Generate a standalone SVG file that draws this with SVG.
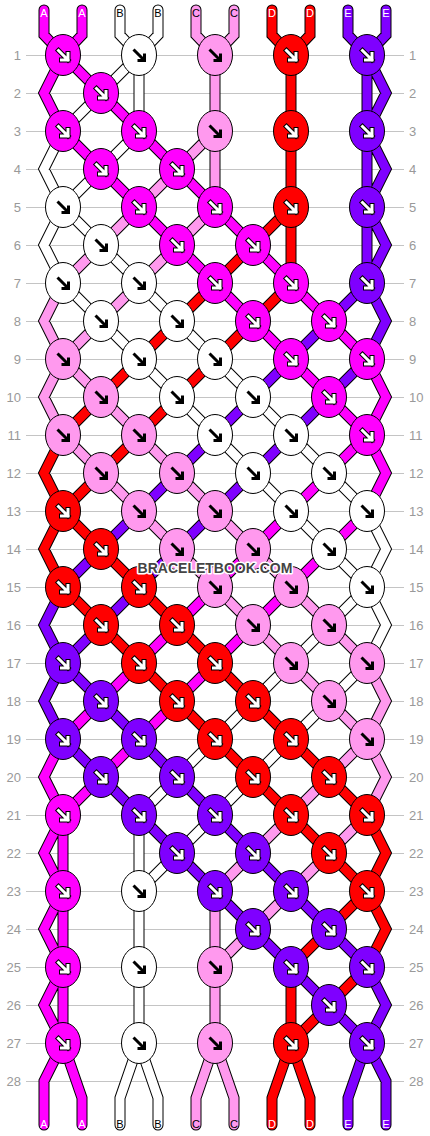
<svg xmlns="http://www.w3.org/2000/svg" xmlns:xlink="http://www.w3.org/1999/xlink" width="430" height="1136" viewBox="0 0 430 1136">
<style>
.grid{fill:none;stroke:#c4c4c4;stroke-width:1}
.num{font-family:"Liberation Sans",Arial,sans-serif;font-size:13px;fill:#999}
.nl{text-anchor:end}
.lab{font-family:"Liberation Sans",Arial,sans-serif;font-size:11px;text-anchor:middle}
.lw{fill:#fff}.lk{fill:#000}
.o{fill:none;stroke:#000;stroke-width:11;stroke-linejoin:miter;stroke-linecap:round}
.s{fill:none;stroke-width:9;stroke-linejoin:miter;stroke-linecap:round}
.ca{stroke:#ff00ff}.cb{stroke:#ffffff}.cc{stroke:#ff99ee}.cd{stroke:#ff0000}.ce{stroke:#7f00ff}
.k{stroke:#000;stroke-width:1}
.fa{fill:#ff00ff}.fb{fill:#ffffff}.fc{fill:#ff99ee}.fd{fill:#ff0000}.fe{fill:#7f00ff}
.wm{font-family:"Liberation Sans",Arial,sans-serif;font-size:14px;font-weight:bold;fill:#444;stroke:#fff;stroke-width:3;paint-order:stroke;stroke-linejoin:round;text-anchor:middle}
</style>
<defs>
<g id="aw"><path d="M-4.5,-4.5L5,5M5,-1.5L5,5L-1.5,5" fill="none" stroke="#000" stroke-width="5" stroke-linecap="square"/><path d="M-4.5,-4.5L5,5M5,-1.5L5,5L-1.5,5" fill="none" stroke="#fff" stroke-width="3" stroke-linecap="square"/></g>
<path id="ab" d="M-5.5,-5.5L5.5,5.5M5.5,-1.5L5.5,5.5L-1.5,5.5" fill="none" stroke="#000" stroke-width="3"/>
<path id="sA" d="M44,10L44,35L63,55M82,10L82,35L63,55M63,55L44,93L63,131M63,55L101,93M101,93L139,131M63,131L101,169M139,131L177,169M101,169L139,207M177,169L215,207M139,207L177,245M215,207L253,245M177,245L215,283M253,245L291,283M215,283L253,321M291,283L329,321M253,321L291,359M329,321L367,359M291,359L329,397M367,359L386,397L367,435M329,397L367,435M367,435L329,473M367,435L386,473L367,511M329,473L291,511M291,511L253,549M367,511L329,549M253,549L215,587M329,549L291,587M215,587L177,625M291,587L253,625M177,625L139,663M253,625L215,663M139,663L101,701M215,663L177,701M101,701L63,739M177,701L139,739M63,739L44,777L63,815M139,739L101,777M101,777L63,815M63,815L44,853L63,891M63,815L63,891M63,891L44,929L63,967M63,891L63,967M63,967L44,1005L63,1043M63,967L63,1043M63,1043L44,1081L44,1125M63,1043L82,1098L82,1125"/>
<path id="sB" d="M120,10L120,35L139,55M158,10L158,35L139,55M139,55L101,93M139,55L139,131M101,93L63,131M63,131L44,169L63,207M139,131L101,169M101,169L63,207M63,207L44,245L63,283M63,207L101,245M101,245L139,283M63,283L101,321M139,283L177,321M101,321L139,359M177,321L215,359M139,359L177,397M215,359L253,397M177,397L215,435M253,397L291,435M215,435L253,473M291,435L329,473M253,473L291,511M329,473L367,511M291,511L329,549M367,511L386,549L367,587M329,549L367,587M367,587L329,625M367,587L386,625L367,663M329,625L291,663M291,663L253,701M367,663L329,701M253,701L215,739M329,701L291,739M215,739L177,777M291,739L253,777M177,777L139,815M253,777L215,815M139,815L139,891M215,815L177,853M177,853L139,891M139,891L139,967M139,967L139,1043M139,1043L120,1098L120,1125M139,1043L158,1098L158,1125"/>
<path id="sC" d="M196,10L196,35L215,55M234,10L234,35L215,55M215,55L215,131M215,131L177,169M215,131L215,207M177,169L139,207M139,207L101,245M215,207L177,245M101,245L63,283M177,245L139,283M63,283L44,321L63,359M139,283L101,321M101,321L63,359M63,359L44,397L63,435M63,359L101,397M101,397L139,435M63,435L101,473M139,435L177,473M101,473L139,511M177,473L215,511M139,511L177,549M215,511L253,549M177,549L215,587M253,549L291,587M215,587L253,625M291,587L329,625M253,625L291,663M329,625L367,663M291,663L329,701M367,663L386,701L367,739M329,701L367,739M367,739L329,777M367,739L386,777L367,815M329,777L291,815M291,815L253,853M367,815L329,853M253,853L215,891M329,853L291,891M215,891L215,967M291,891L253,929M253,929L215,967M215,967L215,1043M215,1043L196,1098L196,1125M215,1043L234,1098L234,1125"/>
<path id="sD" d="M272,10L272,35L291,55M310,10L310,35L291,55M291,55L291,131M291,131L291,207M291,207L253,245M291,207L291,283M253,245L215,283M215,283L177,321M291,283L253,321M177,321L139,359M253,321L215,359M139,359L101,397M215,359L177,397M101,397L63,435M177,397L139,435M63,435L44,473L63,511M139,435L101,473M101,473L63,511M63,511L44,549L63,587M63,511L101,549M101,549L139,587M63,587L101,625M139,587L177,625M101,625L139,663M177,625L215,663M139,663L177,701M215,663L253,701M177,701L215,739M253,701L291,739M215,739L253,777M291,739L329,777M253,777L291,815M329,777L367,815M291,815L329,853M367,815L386,853L367,891M329,853L367,891M367,891L329,929M367,891L386,929L367,967M329,929L291,967M291,967L291,1043M367,967L329,1005M329,1005L291,1043M291,1043L272,1098L272,1125M291,1043L310,1098L310,1125"/>
<path id="sE" d="M348,10L348,35L367,55M386,10L386,35L367,55M367,55L367,131M367,55L386,93L367,131M367,131L367,207M367,131L386,169L367,207M367,207L367,283M367,207L386,245L367,283M367,283L329,321M367,283L386,321L367,359M329,321L291,359M291,359L253,397M367,359L329,397M253,397L215,435M329,397L291,435M215,435L177,473M291,435L253,473M177,473L139,511M253,473L215,511M139,511L101,549M215,511L177,549M101,549L63,587M177,549L139,587M63,587L44,625L63,663M139,587L101,625M101,625L63,663M63,663L44,701L63,739M63,663L101,701M101,701L139,739M63,739L101,777M139,739L177,777M101,777L139,815M177,777L215,815M139,815L177,853M215,815L253,853M177,853L215,891M253,853L291,891M215,891L253,929M291,891L329,929M253,929L291,967M329,929L367,967M291,967L329,1005M367,967L386,1005L367,1043M329,1005L367,1043M367,1043L348,1098L348,1125M367,1043L386,1081L386,1125"/>
</defs>
<rect width="430" height="1136" fill="#fff"/>
<g id="grid">
<path class="grid" d="M26,55.5H404M26,93.5H404M26,131.5H404M26,169.5H404M26,207.5H404M26,245.5H404M26,283.5H404M26,321.5H404M26,359.5H404M26,397.5H404M26,435.5H404M26,473.5H404M26,511.5H404M26,549.5H404M26,587.5H404M26,625.5H404M26,663.5H404M26,701.5H404M26,739.5H404M26,777.5H404M26,815.5H404M26,853.5H404M26,891.5H404M26,929.5H404M26,967.5H404M26,1005.5H404M26,1043.5H404M26,1081.5H404"/>
</g>
<g id="row-numbers">
<text class="num nl" x="21" y="60">1</text><text class="num" x="409" y="60">1</text>
<text class="num nl" x="21" y="98">2</text><text class="num" x="409" y="98">2</text>
<text class="num nl" x="21" y="136">3</text><text class="num" x="409" y="136">3</text>
<text class="num nl" x="21" y="174">4</text><text class="num" x="409" y="174">4</text>
<text class="num nl" x="21" y="212">5</text><text class="num" x="409" y="212">5</text>
<text class="num nl" x="21" y="250">6</text><text class="num" x="409" y="250">6</text>
<text class="num nl" x="21" y="288">7</text><text class="num" x="409" y="288">7</text>
<text class="num nl" x="21" y="326">8</text><text class="num" x="409" y="326">8</text>
<text class="num nl" x="21" y="364">9</text><text class="num" x="409" y="364">9</text>
<text class="num nl" x="21" y="402">10</text><text class="num" x="409" y="402">10</text>
<text class="num nl" x="21" y="440">11</text><text class="num" x="409" y="440">11</text>
<text class="num nl" x="21" y="478">12</text><text class="num" x="409" y="478">12</text>
<text class="num nl" x="21" y="516">13</text><text class="num" x="409" y="516">13</text>
<text class="num nl" x="21" y="554">14</text><text class="num" x="409" y="554">14</text>
<text class="num nl" x="21" y="592">15</text><text class="num" x="409" y="592">15</text>
<text class="num nl" x="21" y="630">16</text><text class="num" x="409" y="630">16</text>
<text class="num nl" x="21" y="668">17</text><text class="num" x="409" y="668">17</text>
<text class="num nl" x="21" y="706">18</text><text class="num" x="409" y="706">18</text>
<text class="num nl" x="21" y="744">19</text><text class="num" x="409" y="744">19</text>
<text class="num nl" x="21" y="782">20</text><text class="num" x="409" y="782">20</text>
<text class="num nl" x="21" y="820">21</text><text class="num" x="409" y="820">21</text>
<text class="num nl" x="21" y="858">22</text><text class="num" x="409" y="858">22</text>
<text class="num nl" x="21" y="896">23</text><text class="num" x="409" y="896">23</text>
<text class="num nl" x="21" y="934">24</text><text class="num" x="409" y="934">24</text>
<text class="num nl" x="21" y="972">25</text><text class="num" x="409" y="972">25</text>
<text class="num nl" x="21" y="1010">26</text><text class="num" x="409" y="1010">26</text>
<text class="num nl" x="21" y="1048">27</text><text class="num" x="409" y="1048">27</text>
<text class="num nl" x="21" y="1086">28</text><text class="num" x="409" y="1086">28</text>
</g>
<g id="strings">
<use href="#sB" class="o"/><use href="#sB" class="s cb"/>
<use href="#sC" class="o"/><use href="#sC" class="s cc"/>
<use href="#sA" class="o"/><use href="#sA" class="s ca"/>
<use href="#sD" class="o"/><use href="#sD" class="s cd"/>
<use href="#sE" class="o"/><use href="#sE" class="s ce"/>
</g>
<g id="string-labels">
<text class="lab lw" x="44" y="17">A</text><text class="lab lw" x="82" y="17">A</text><text class="lab lk" x="120" y="17">B</text><text class="lab lk" x="158" y="17">B</text><text class="lab lk" x="196" y="17">C</text><text class="lab lk" x="234" y="17">C</text><text class="lab lw" x="272" y="17">D</text><text class="lab lw" x="310" y="17">D</text><text class="lab lw" x="348" y="17">E</text><text class="lab lw" x="386" y="17">E</text>
<text class="lab lw" x="44" y="1128">A</text><text class="lab lw" x="82" y="1128">A</text><text class="lab lk" x="120" y="1128">B</text><text class="lab lk" x="158" y="1128">B</text><text class="lab lk" x="196" y="1128">C</text><text class="lab lk" x="234" y="1128">C</text><text class="lab lw" x="272" y="1128">D</text><text class="lab lw" x="310" y="1128">D</text><text class="lab lw" x="348" y="1128">E</text><text class="lab lw" x="386" y="1128">E</text>
</g>
<g id="knots">
<g id="k1-1"><ellipse class="k fa" cx="63" cy="55" rx="17.5" ry="20.5"/><use href="#aw" x="63" y="55"/></g>
<g id="k1-2"><ellipse class="k fb" cx="139" cy="55" rx="17.5" ry="20.5"/><use href="#ab" x="139" y="55"/></g>
<g id="k1-3"><ellipse class="k fc" cx="215" cy="55" rx="17.5" ry="20.5"/><use href="#ab" x="215" y="55"/></g>
<g id="k1-4"><ellipse class="k fd" cx="291" cy="55" rx="17.5" ry="20.5"/><use href="#aw" x="291" y="55"/></g>
<g id="k1-5"><ellipse class="k fe" cx="367" cy="55" rx="17.5" ry="20.5"/><use href="#aw" x="367" y="55"/></g>
<g id="k2-1"><ellipse class="k fa" cx="101" cy="93" rx="17.5" ry="20.5"/><use href="#aw" x="101" y="93"/></g>
<g id="k3-1"><ellipse class="k fa" cx="63" cy="131" rx="17.5" ry="20.5"/><use href="#aw" x="63" y="131"/></g>
<g id="k3-2"><ellipse class="k fa" cx="139" cy="131" rx="17.5" ry="20.5"/><use href="#aw" x="139" y="131"/></g>
<g id="k3-3"><ellipse class="k fc" cx="215" cy="131" rx="17.5" ry="20.5"/><use href="#ab" x="215" y="131"/></g>
<g id="k3-4"><ellipse class="k fd" cx="291" cy="131" rx="17.5" ry="20.5"/><use href="#aw" x="291" y="131"/></g>
<g id="k3-5"><ellipse class="k fe" cx="367" cy="131" rx="17.5" ry="20.5"/><use href="#aw" x="367" y="131"/></g>
<g id="k4-1"><ellipse class="k fa" cx="101" cy="169" rx="17.5" ry="20.5"/><use href="#aw" x="101" y="169"/></g>
<g id="k4-2"><ellipse class="k fa" cx="177" cy="169" rx="17.5" ry="20.5"/><use href="#aw" x="177" y="169"/></g>
<g id="k5-1"><ellipse class="k fb" cx="63" cy="207" rx="17.5" ry="20.5"/><use href="#ab" x="63" y="207"/></g>
<g id="k5-2"><ellipse class="k fa" cx="139" cy="207" rx="17.5" ry="20.5"/><use href="#aw" x="139" y="207"/></g>
<g id="k5-3"><ellipse class="k fa" cx="215" cy="207" rx="17.5" ry="20.5"/><use href="#aw" x="215" y="207"/></g>
<g id="k5-4"><ellipse class="k fd" cx="291" cy="207" rx="17.5" ry="20.5"/><use href="#aw" x="291" y="207"/></g>
<g id="k5-5"><ellipse class="k fe" cx="367" cy="207" rx="17.5" ry="20.5"/><use href="#aw" x="367" y="207"/></g>
<g id="k6-1"><ellipse class="k fb" cx="101" cy="245" rx="17.5" ry="20.5"/><use href="#ab" x="101" y="245"/></g>
<g id="k6-2"><ellipse class="k fa" cx="177" cy="245" rx="17.5" ry="20.5"/><use href="#aw" x="177" y="245"/></g>
<g id="k6-3"><ellipse class="k fa" cx="253" cy="245" rx="17.5" ry="20.5"/><use href="#aw" x="253" y="245"/></g>
<g id="k7-1"><ellipse class="k fb" cx="63" cy="283" rx="17.5" ry="20.5"/><use href="#ab" x="63" y="283"/></g>
<g id="k7-2"><ellipse class="k fb" cx="139" cy="283" rx="17.5" ry="20.5"/><use href="#ab" x="139" y="283"/></g>
<g id="k7-3"><ellipse class="k fa" cx="215" cy="283" rx="17.5" ry="20.5"/><use href="#aw" x="215" y="283"/></g>
<g id="k7-4"><ellipse class="k fa" cx="291" cy="283" rx="17.5" ry="20.5"/><use href="#aw" x="291" y="283"/></g>
<g id="k7-5"><ellipse class="k fe" cx="367" cy="283" rx="17.5" ry="20.5"/><use href="#aw" x="367" y="283"/></g>
<g id="k8-1"><ellipse class="k fb" cx="101" cy="321" rx="17.5" ry="20.5"/><use href="#ab" x="101" y="321"/></g>
<g id="k8-2"><ellipse class="k fb" cx="177" cy="321" rx="17.5" ry="20.5"/><use href="#ab" x="177" y="321"/></g>
<g id="k8-3"><ellipse class="k fa" cx="253" cy="321" rx="17.5" ry="20.5"/><use href="#aw" x="253" y="321"/></g>
<g id="k8-4"><ellipse class="k fa" cx="329" cy="321" rx="17.5" ry="20.5"/><use href="#aw" x="329" y="321"/></g>
<g id="k9-1"><ellipse class="k fc" cx="63" cy="359" rx="17.5" ry="20.5"/><use href="#ab" x="63" y="359"/></g>
<g id="k9-2"><ellipse class="k fb" cx="139" cy="359" rx="17.5" ry="20.5"/><use href="#ab" x="139" y="359"/></g>
<g id="k9-3"><ellipse class="k fb" cx="215" cy="359" rx="17.5" ry="20.5"/><use href="#ab" x="215" y="359"/></g>
<g id="k9-4"><ellipse class="k fa" cx="291" cy="359" rx="17.5" ry="20.5"/><use href="#aw" x="291" y="359"/></g>
<g id="k9-5"><ellipse class="k fa" cx="367" cy="359" rx="17.5" ry="20.5"/><use href="#aw" x="367" y="359"/></g>
<g id="k10-1"><ellipse class="k fc" cx="101" cy="397" rx="17.5" ry="20.5"/><use href="#ab" x="101" y="397"/></g>
<g id="k10-2"><ellipse class="k fb" cx="177" cy="397" rx="17.5" ry="20.5"/><use href="#ab" x="177" y="397"/></g>
<g id="k10-3"><ellipse class="k fb" cx="253" cy="397" rx="17.5" ry="20.5"/><use href="#ab" x="253" y="397"/></g>
<g id="k10-4"><ellipse class="k fa" cx="329" cy="397" rx="17.5" ry="20.5"/><use href="#aw" x="329" y="397"/></g>
<g id="k11-1"><ellipse class="k fc" cx="63" cy="435" rx="17.5" ry="20.5"/><use href="#ab" x="63" y="435"/></g>
<g id="k11-2"><ellipse class="k fc" cx="139" cy="435" rx="17.5" ry="20.5"/><use href="#ab" x="139" y="435"/></g>
<g id="k11-3"><ellipse class="k fb" cx="215" cy="435" rx="17.5" ry="20.5"/><use href="#ab" x="215" y="435"/></g>
<g id="k11-4"><ellipse class="k fb" cx="291" cy="435" rx="17.5" ry="20.5"/><use href="#ab" x="291" y="435"/></g>
<g id="k11-5"><ellipse class="k fa" cx="367" cy="435" rx="17.5" ry="20.5"/><use href="#aw" x="367" y="435"/></g>
<g id="k12-1"><ellipse class="k fc" cx="101" cy="473" rx="17.5" ry="20.5"/><use href="#ab" x="101" y="473"/></g>
<g id="k12-2"><ellipse class="k fc" cx="177" cy="473" rx="17.5" ry="20.5"/><use href="#ab" x="177" y="473"/></g>
<g id="k12-3"><ellipse class="k fb" cx="253" cy="473" rx="17.5" ry="20.5"/><use href="#ab" x="253" y="473"/></g>
<g id="k12-4"><ellipse class="k fb" cx="329" cy="473" rx="17.5" ry="20.5"/><use href="#ab" x="329" y="473"/></g>
<g id="k13-1"><ellipse class="k fd" cx="63" cy="511" rx="17.5" ry="20.5"/><use href="#aw" x="63" y="511"/></g>
<g id="k13-2"><ellipse class="k fc" cx="139" cy="511" rx="17.5" ry="20.5"/><use href="#ab" x="139" y="511"/></g>
<g id="k13-3"><ellipse class="k fc" cx="215" cy="511" rx="17.5" ry="20.5"/><use href="#ab" x="215" y="511"/></g>
<g id="k13-4"><ellipse class="k fb" cx="291" cy="511" rx="17.5" ry="20.5"/><use href="#ab" x="291" y="511"/></g>
<g id="k13-5"><ellipse class="k fb" cx="367" cy="511" rx="17.5" ry="20.5"/><use href="#ab" x="367" y="511"/></g>
<g id="k14-1"><ellipse class="k fd" cx="101" cy="549" rx="17.5" ry="20.5"/><use href="#aw" x="101" y="549"/></g>
<g id="k14-2"><ellipse class="k fc" cx="177" cy="549" rx="17.5" ry="20.5"/><use href="#ab" x="177" y="549"/></g>
<g id="k14-3"><ellipse class="k fc" cx="253" cy="549" rx="17.5" ry="20.5"/><use href="#ab" x="253" y="549"/></g>
<g id="k14-4"><ellipse class="k fb" cx="329" cy="549" rx="17.5" ry="20.5"/><use href="#ab" x="329" y="549"/></g>
<g id="k15-1"><ellipse class="k fd" cx="63" cy="587" rx="17.5" ry="20.5"/><use href="#aw" x="63" y="587"/></g>
<g id="k15-2"><ellipse class="k fd" cx="139" cy="587" rx="17.5" ry="20.5"/><use href="#aw" x="139" y="587"/></g>
<g id="k15-3"><ellipse class="k fc" cx="215" cy="587" rx="17.5" ry="20.5"/><use href="#ab" x="215" y="587"/></g>
<g id="k15-4"><ellipse class="k fc" cx="291" cy="587" rx="17.5" ry="20.5"/><use href="#ab" x="291" y="587"/></g>
<g id="k15-5"><ellipse class="k fb" cx="367" cy="587" rx="17.5" ry="20.5"/><use href="#ab" x="367" y="587"/></g>
<g id="k16-1"><ellipse class="k fd" cx="101" cy="625" rx="17.5" ry="20.5"/><use href="#aw" x="101" y="625"/></g>
<g id="k16-2"><ellipse class="k fd" cx="177" cy="625" rx="17.5" ry="20.5"/><use href="#aw" x="177" y="625"/></g>
<g id="k16-3"><ellipse class="k fc" cx="253" cy="625" rx="17.5" ry="20.5"/><use href="#ab" x="253" y="625"/></g>
<g id="k16-4"><ellipse class="k fc" cx="329" cy="625" rx="17.5" ry="20.5"/><use href="#ab" x="329" y="625"/></g>
<g id="k17-1"><ellipse class="k fe" cx="63" cy="663" rx="17.5" ry="20.5"/><use href="#aw" x="63" y="663"/></g>
<g id="k17-2"><ellipse class="k fd" cx="139" cy="663" rx="17.5" ry="20.5"/><use href="#aw" x="139" y="663"/></g>
<g id="k17-3"><ellipse class="k fd" cx="215" cy="663" rx="17.5" ry="20.5"/><use href="#aw" x="215" y="663"/></g>
<g id="k17-4"><ellipse class="k fc" cx="291" cy="663" rx="17.5" ry="20.5"/><use href="#ab" x="291" y="663"/></g>
<g id="k17-5"><ellipse class="k fc" cx="367" cy="663" rx="17.5" ry="20.5"/><use href="#ab" x="367" y="663"/></g>
<g id="k18-1"><ellipse class="k fe" cx="101" cy="701" rx="17.5" ry="20.5"/><use href="#aw" x="101" y="701"/></g>
<g id="k18-2"><ellipse class="k fd" cx="177" cy="701" rx="17.5" ry="20.5"/><use href="#aw" x="177" y="701"/></g>
<g id="k18-3"><ellipse class="k fd" cx="253" cy="701" rx="17.5" ry="20.5"/><use href="#aw" x="253" y="701"/></g>
<g id="k18-4"><ellipse class="k fc" cx="329" cy="701" rx="17.5" ry="20.5"/><use href="#ab" x="329" y="701"/></g>
<g id="k19-1"><ellipse class="k fe" cx="63" cy="739" rx="17.5" ry="20.5"/><use href="#aw" x="63" y="739"/></g>
<g id="k19-2"><ellipse class="k fe" cx="139" cy="739" rx="17.5" ry="20.5"/><use href="#aw" x="139" y="739"/></g>
<g id="k19-3"><ellipse class="k fd" cx="215" cy="739" rx="17.5" ry="20.5"/><use href="#aw" x="215" y="739"/></g>
<g id="k19-4"><ellipse class="k fd" cx="291" cy="739" rx="17.5" ry="20.5"/><use href="#aw" x="291" y="739"/></g>
<g id="k19-5"><ellipse class="k fc" cx="367" cy="739" rx="17.5" ry="20.5"/><use href="#ab" x="367" y="739"/></g>
<g id="k20-1"><ellipse class="k fe" cx="101" cy="777" rx="17.5" ry="20.5"/><use href="#aw" x="101" y="777"/></g>
<g id="k20-2"><ellipse class="k fe" cx="177" cy="777" rx="17.5" ry="20.5"/><use href="#aw" x="177" y="777"/></g>
<g id="k20-3"><ellipse class="k fd" cx="253" cy="777" rx="17.5" ry="20.5"/><use href="#aw" x="253" y="777"/></g>
<g id="k20-4"><ellipse class="k fd" cx="329" cy="777" rx="17.5" ry="20.5"/><use href="#aw" x="329" y="777"/></g>
<g id="k21-1"><ellipse class="k fa" cx="63" cy="815" rx="17.5" ry="20.5"/><use href="#aw" x="63" y="815"/></g>
<g id="k21-2"><ellipse class="k fe" cx="139" cy="815" rx="17.5" ry="20.5"/><use href="#aw" x="139" y="815"/></g>
<g id="k21-3"><ellipse class="k fe" cx="215" cy="815" rx="17.5" ry="20.5"/><use href="#aw" x="215" y="815"/></g>
<g id="k21-4"><ellipse class="k fd" cx="291" cy="815" rx="17.5" ry="20.5"/><use href="#aw" x="291" y="815"/></g>
<g id="k21-5"><ellipse class="k fd" cx="367" cy="815" rx="17.5" ry="20.5"/><use href="#aw" x="367" y="815"/></g>
<g id="k22-2"><ellipse class="k fe" cx="177" cy="853" rx="17.5" ry="20.5"/><use href="#aw" x="177" y="853"/></g>
<g id="k22-3"><ellipse class="k fe" cx="253" cy="853" rx="17.5" ry="20.5"/><use href="#aw" x="253" y="853"/></g>
<g id="k22-4"><ellipse class="k fd" cx="329" cy="853" rx="17.5" ry="20.5"/><use href="#aw" x="329" y="853"/></g>
<g id="k23-1"><ellipse class="k fa" cx="63" cy="891" rx="17.5" ry="20.5"/><use href="#aw" x="63" y="891"/></g>
<g id="k23-2"><ellipse class="k fb" cx="139" cy="891" rx="17.5" ry="20.5"/><use href="#ab" x="139" y="891"/></g>
<g id="k23-3"><ellipse class="k fe" cx="215" cy="891" rx="17.5" ry="20.5"/><use href="#aw" x="215" y="891"/></g>
<g id="k23-4"><ellipse class="k fe" cx="291" cy="891" rx="17.5" ry="20.5"/><use href="#aw" x="291" y="891"/></g>
<g id="k23-5"><ellipse class="k fd" cx="367" cy="891" rx="17.5" ry="20.5"/><use href="#aw" x="367" y="891"/></g>
<g id="k24-3"><ellipse class="k fe" cx="253" cy="929" rx="17.5" ry="20.5"/><use href="#aw" x="253" y="929"/></g>
<g id="k24-4"><ellipse class="k fe" cx="329" cy="929" rx="17.5" ry="20.5"/><use href="#aw" x="329" y="929"/></g>
<g id="k25-1"><ellipse class="k fa" cx="63" cy="967" rx="17.5" ry="20.5"/><use href="#aw" x="63" y="967"/></g>
<g id="k25-2"><ellipse class="k fb" cx="139" cy="967" rx="17.5" ry="20.5"/><use href="#ab" x="139" y="967"/></g>
<g id="k25-3"><ellipse class="k fc" cx="215" cy="967" rx="17.5" ry="20.5"/><use href="#ab" x="215" y="967"/></g>
<g id="k25-4"><ellipse class="k fe" cx="291" cy="967" rx="17.5" ry="20.5"/><use href="#aw" x="291" y="967"/></g>
<g id="k25-5"><ellipse class="k fe" cx="367" cy="967" rx="17.5" ry="20.5"/><use href="#aw" x="367" y="967"/></g>
<g id="k26-4"><ellipse class="k fe" cx="329" cy="1005" rx="17.5" ry="20.5"/><use href="#aw" x="329" y="1005"/></g>
<g id="k27-1"><ellipse class="k fa" cx="63" cy="1043" rx="17.5" ry="20.5"/><use href="#aw" x="63" y="1043"/></g>
<g id="k27-2"><ellipse class="k fb" cx="139" cy="1043" rx="17.5" ry="20.5"/><use href="#ab" x="139" y="1043"/></g>
<g id="k27-3"><ellipse class="k fc" cx="215" cy="1043" rx="17.5" ry="20.5"/><use href="#ab" x="215" y="1043"/></g>
<g id="k27-4"><ellipse class="k fd" cx="291" cy="1043" rx="17.5" ry="20.5"/><use href="#aw" x="291" y="1043"/></g>
<g id="k27-5"><ellipse class="k fe" cx="367" cy="1043" rx="17.5" ry="20.5"/><use href="#aw" x="367" y="1043"/></g>
</g>
<g id="watermark"><text class="wm" x="215" y="573">BRACELETBOOK.COM</text></g>
</svg>
